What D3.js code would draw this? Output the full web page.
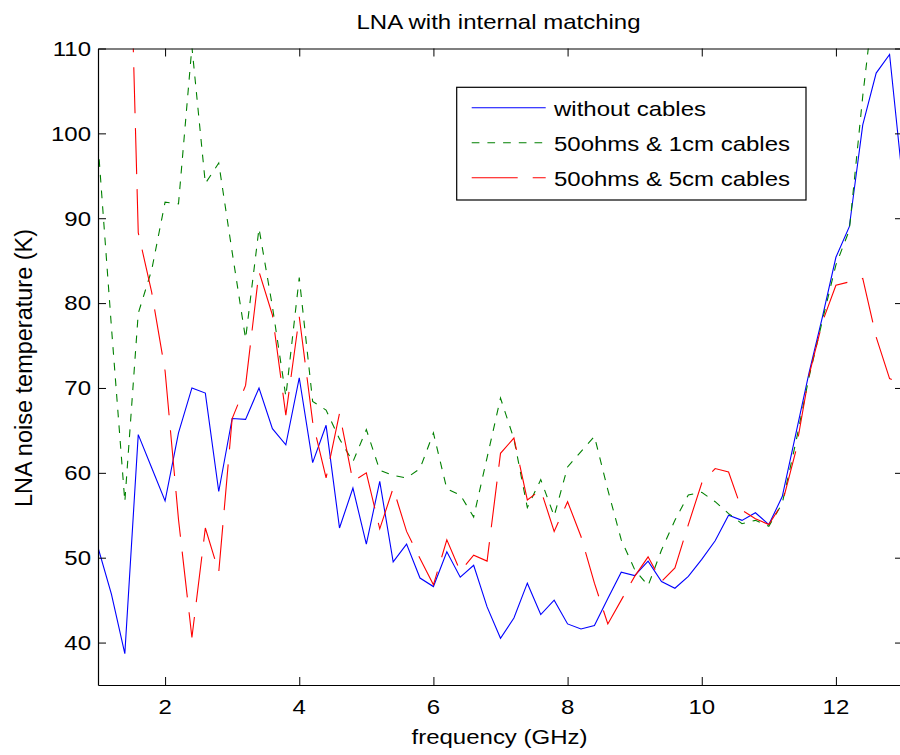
<!DOCTYPE html>
<html><head><meta charset="utf-8">
<script src="https://cdn.jsdelivr.net/npm/d3@7"></script>
<style>
body{margin:0;background:#fff;}
svg text{font-family:"Liberation Sans",Arial,Helvetica,sans-serif;fill:#000;}
</style>
</head><body>
<svg id="chart" width="900" height="755"></svg>
<script>
// ---- data ----
const freq = [1.0,1.2,1.4,1.6,1.8,2.0,2.2,2.4,2.6,2.8,3.0,3.2,3.4,3.6,3.8,4.0,4.2,4.4,4.6,4.8,
  5.0,5.2,5.4,5.6,5.8,6.0,6.2,6.4,6.6,6.8,7.0,7.2,7.4,7.6,7.8,8.0,8.2,8.4,8.6,8.8,
  9.0,9.2,9.4,9.6,9.8,10.0,10.2,10.4,10.6,10.8,11.0,11.2,11.4,11.6,11.8,12.0,12.2,12.4,12.6,12.8,13.0];

const withoutCables = [51.2,45.7,38.7,64.5,60.6,56.7,64.7,70.0,69.4,57.8,66.4,66.3,70.0,65.2,63.3,71.2,61.2,65.6,53.5,58.2,
  51.6,59.0,49.5,51.6,47.6,46.6,50.7,47.7,49.1,44.2,40.5,42.9,47.0,43.3,45.0,42.2,41.6,42.0,45.2,48.3,
  47.9,49.6,47.2,46.4,47.8,49.8,52.0,55.0,54.4,55.3,53.9,57.2,64.5,71.8,78.4,85.4,89.0,101.0,107.1,109.3,94.0];

const cables1cm = [98.8,77.2,56.6,78.8,83.9,91.9,91.7,110.2,94.1,96.5,86.0,75.8,88.8,79.6,69.0,83.0,68.4,67.4,64.0,61.3,
  65.1,60.3,59.7,59.4,60.5,64.7,58.1,57.4,54.8,61.8,68.8,64.0,55.9,59.2,54.9,60.7,62.5,64.3,58.0,52.1,
  48.6,46.7,50.9,54.4,57.4,57.7,56.6,55.2,54.0,54.4,53.7,56.4,63.5,71.3,78.0,84.5,88.6,104.4,118.0,125.0,122.0];

const cables5cm = [165.0,158.0,147.0,88.3,81.3,72.0,54.5,40.6,53.5,48.3,66.4,70.3,83.7,78.6,66.8,78.4,66.0,59.4,67.0,59.0,
  60.0,53.4,58.2,53.1,49.9,46.8,52.1,48.4,50.3,49.6,62.3,64.1,56.8,58.0,53.1,56.6,52.5,47.0,42.2,45.0,
  47.8,50.1,47.2,48.8,53.9,58.8,60.5,60.1,55.6,54.6,53.9,56.4,62.5,71.5,77.8,82.1,82.5,82.9,76.0,71.1,70.5];

const seriesNames = ["without cables","50ohms & 1cm cables","50ohms & 5cm cables"];
const seriesColors = ["#0000ff","#008000","#ff0000"];
const seriesDash = [null,"7.7,8","46,15"];

const xTicks = [2,4,6,8,10,12];
const yTicks = [40,50,60,70,80,90,100,110];

const titleText = "LNA with internal matching";
const xLabel = "frequency (GHz)";
const yLabel = "LNA noise temperature (K)";

// ---- layout ----
const L = 98, R = 903, T = 48.5, B = 685;
const FS = 24, SQ = 0.86; // horizontal text: font size and vertical squash
const svg = d3.select("#chart");

const x = d3.scaleLinear().domain([1,13]).range([L,R]);
const y = d3.scaleLinear().domain([35,110]).range([B,T]);

svg.append("rect").attr("width",900).attr("height",755).attr("fill","#fff");

svg.append("defs").append("clipPath").attr("id","plotclip")
  .append("rect").attr("x",L).attr("y",T).attr("width",R-L).attr("height",B-T);

// lines
const seriesData = [withoutCables, cables1cm, cables5cm];
const line = d3.line().x((d,i)=>x(freq[i])).y(d=>y(d));
const gLines = svg.append("g").attr("clip-path","url(#plotclip)");
seriesData.forEach((vals,k)=>{
  gLines.append("path")
    .datum(vals)
    .attr("d",line)
    .attr("fill","none")
    .attr("stroke",seriesColors[k])
    .attr("stroke-width",1.1)
    .attr("stroke-dasharray",seriesDash[k])
    .attr("stroke-linejoin","miter");
});

// axes (ticks inward, MATLAB box)
function styleAxis(g){
  g.select(".domain").attr("stroke","#000").attr("stroke-width",1.2);
  g.selectAll(".tick line").attr("stroke","#000").attr("stroke-width",1);
  g.selectAll(".tick text").remove();
}
svg.append("g").attr("transform",`translate(0,${B})`)
  .call(d3.axisBottom(x).tickValues(xTicks).tickSizeInner(-8).tickSizeOuter(0).tickFormat(""))
  .call(styleAxis);
svg.append("g").attr("transform",`translate(0,${T})`)
  .call(d3.axisTop(x).tickValues(xTicks).tickSizeInner(-8).tickSizeOuter(0).tickFormat(""))
  .call(styleAxis);
svg.append("g").attr("transform",`translate(${L},0)`)
  .call(d3.axisLeft(y).tickValues(yTicks).tickSizeInner(-8).tickSizeOuter(0).tickFormat(""))
  .call(styleAxis);
svg.append("g").attr("transform",`translate(${R},0)`)
  .call(d3.axisRight(y).tickValues(yTicks).tickSizeInner(-8).tickSizeOuter(0).tickFormat(""))
  .call(styleAxis);

function htext(str, px, py, anchor){
  return svg.append("text")
    .attr("transform",`translate(${px},${py}) scale(1,${SQ})`)
    .attr("text-anchor",anchor)
    .attr("font-size",FS)
    .text(str);
}

// tick labels
xTicks.forEach(v=>htext(String(v), x(v), 713.5, "middle"));
yTicks.forEach(v=>htext(String(v), 91, y(v)+7.3, "end"));

// title & axis labels
htext(titleText, (L+R)/2 - 2, 28.5, "middle");
htext(xLabel, (L+R)/2 - 1, 743.5, "middle");
svg.append("text")
  .attr("transform",`translate(32,${368}) rotate(-90)`)
  .attr("text-anchor","middle")
  .attr("font-size",23.5)
  .text(yLabel);

// legend
const lg = svg.append("g");
lg.append("rect").attr("x",456.7).attr("y",87.3).attr("width",806-456.7).attr("height",200-87.3)
  .attr("fill","#fff").attr("stroke","#000").attr("stroke-width",1.2);
const rowY = [107.7,142.7,177.7];
seriesNames.forEach((name,k)=>{
  lg.append("line").attr("x1",471.7).attr("x2",545.7).attr("y1",rowY[k]).attr("y2",rowY[k])
    .attr("stroke",seriesColors[k]).attr("stroke-width",1.1).attr("stroke-dasharray",seriesDash[k]);
  htext(name, 554, rowY[k]+8.3, "start");
});
</script>
</body></html>
